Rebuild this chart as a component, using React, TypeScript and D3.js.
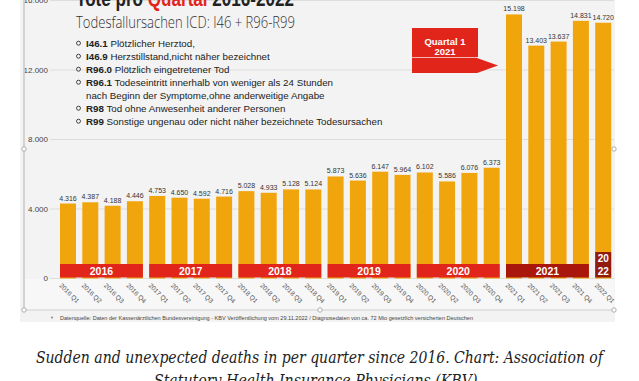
import React from "react";
import * as d3 from "d3";

const quarters = [
  "2016 Q1", "2016 Q2", "2016 Q3", "2016 Q4",
  "2017 Q1", "2017 Q2", "2017 Q3", "2017 Q4",
  "2018 Q1", "2018 Q2", "2018 Q3", "2018 Q4",
  "2019 Q1", "2019 Q2", "2019 Q3", "2019 Q4",
  "2020 Q1", "2020 Q2", "2020 Q3", "2020 Q4",
  "2021 Q1", "2021 Q2", "2021 Q3", "2021 Q4",
  "2022 Q1",
];
const deaths = [
  4316, 4387, 4188, 4446,
  4753, 4650, 4592, 4716,
  5028, 4933, 5128, 5124,
  5873, 5636, 6147, 5964,
  6102, 5586, 6076, 6373,
  15198, 13403, 13637, 14831,
  14720,
];
const years = ["2016", "2017", "2018", "2019", "2020", "2021", "2022"];
const yTicks = [0, 4000, 8000, 12000, 16000];

const bulletItems: [string, string][] = [
  ["I46.1", " Plötzlicher Herztod,"],
  ["I46.9", " Herzstillstand,nicht näher bezeichnet"],
  ["R96.0", " Plötzlich eingetretener Tod"],
  ["R96.1", " Todeseintritt innerhalb von weniger als 24 Stunden"],
  ["", "nach Beginn der Symptome,ohne anderweitige Angabe"],
  ["R98", " Tod ohne Anwesenheit anderer Personen"],
  ["R99", " Sonstige ungenau oder nicht näher bezeichnete Todesursachen"],
];

const titleParts = ["Tote pro ", "Quartal", " 2016-2022"];
const subtitle = "Todesfallursachen ICD: I46 + R96-R99";
const calloutLines = ["Quartal 1", "2021"];
const sourceText =
  "Datenquelle: Daten der Kassenärztlichen Bundesvereinigung - KBV Veröffentlichung vom 29.11.2022 / Diagnosedaten von ca. 72 Mio gesetzlich versicherten Deutschen";
const captionLines = [
  "Sudden and unexpected deaths in per quarter since 2016. Chart: Association of",
  "Statutory Health Insurance Physicians (KBV).",
];

const W = 639;
const H = 381;
const SANS = "'Liberation Sans', Arial, sans-serif";
const ORANGE = "#f1a50d";
const RED = "#e1251b";
const DARKRED = "#a9170c";
const DARKERRED = "#921b10";

const de = d3.formatLocale({
  decimal: ",",
  thousands: ".",
  grouping: [3],
  currency: ["", "€"],
});
const fmt = de.format(",d");

export default function App() {
  const x = d3
    .scaleBand<string>()
    .domain(quarters)
    .range([56.85, 614.35])
    .paddingInner(0.283)
    .paddingOuter(0.1415);
  const y = d3.scaleLinear().domain([0, 16000]).range([278.5, 0.5]);
  const bw = x.bandwidth();

  const yearGroups = years.map((yr) => {
    const qs = quarters.filter((q) => q.startsWith(yr));
    const x0 = x(qs[0])!;
    const x1 = x(qs[qs.length - 1])! + bw;
    return { yr, x0, x1, n: qs.length };
  });

  const handles = [
    [24, 149],
    [24, 310],
    [320, 310],
    [614, 310],
    [614, 149],
  ];

  return (
    <div style={{ position: "absolute", left: 0, top: 0 }}>
      <svg width={W} height={H} style={{ display: "block" }}>
        <rect x={0} y={0} width={W} height={H} fill="#ffffff" />
        <rect x={20} y={0} width={595} height={322} fill="#f3f3f3" />
        <rect x={25} y={279} width={589} height={31} fill="#f7f7f7" />

        {/* gridlines */}
        {yTicks.map((t) => (
          <line
            key={"g" + t}
            x1={50}
            x2={614}
            y1={y(t)}
            y2={y(t)}
            stroke="#dddddd"
            strokeWidth={1}
          />
        ))}
        {yTicks.map((t) => (
          <text
            key={"yt" + t}
            x={48}
            y={y(t)}
            dy="0.35em"
            textAnchor="end"
            fontFamily={SANS}
            fontSize={8}
            fill="#444"
          >
            {fmt(t)}
          </text>
        ))}

        {/* frame lines */}
        <line x1={24} x2={24} y1={0} y2={310} stroke="#c9c9c9" strokeWidth={1.5} />
        <line x1={24} x2={614} y1={310} y2={310} stroke="#cfcfcf" strokeWidth={1} />

        {/* bars */}
        {quarters.map((q, i) => (
          <rect
            key={q}
            x={x(q)}
            y={y(deaths[i])}
            width={bw}
            height={y(0) - y(deaths[i])}
            fill={ORANGE}
          />
        ))}
        {quarters.map((q, i) => (
          <text
            key={"v" + q}
            x={x(q)! + bw / 2}
            y={y(deaths[i]) - 3}
            textAnchor="middle"
            fontFamily={SANS}
            fontSize={7}
            fill="#333"
          >
            {fmt(deaths[i])}
          </text>
        ))}

        {/* year bands */}
        {yearGroups.map((g) => {
          if (g.yr === "2022") {
            return (
              <g key={g.yr}>
                <rect x={g.x0} y={252} width={g.x1 - g.x0} height={25.5} fill={DARKERRED} />
                <text x={(g.x0 + g.x1) / 2} y={261.5} textAnchor="middle" fontFamily={SANS} fontWeight="bold" fontSize={10} fill="#fff">
                  {g.yr.slice(0, 2)}
                </text>
                <text x={(g.x0 + g.x1) / 2} y={274.5} textAnchor="middle" fontFamily={SANS} fontWeight="bold" fontSize={10} fill="#fff">
                  {g.yr.slice(2)}
                </text>
              </g>
            );
          }
          return (
            <g key={g.yr}>
              <rect
                x={g.x0}
                y={264}
                width={g.x1 - g.x0}
                height={13.5}
                fill={g.yr === "2021" ? DARKRED : RED}
              />
              <text
                x={(g.x0 + g.x1) / 2}
                y={274.5}
                textAnchor="middle"
                fontFamily={SANS}
                fontWeight="bold"
                fontSize={10.5}
                fill="#fff"
              >
                {g.yr}
              </text>
            </g>
          );
        })}

        {/* x labels */}
        {quarters.map((q) => (
          <text
            key={"xl" + q}
            transform={`translate(${x(q)! - 1},${286}) rotate(45)`}
            fontFamily={SANS}
            fontSize={6.5}
            fill="#555"
          >
            {q}
          </text>
        ))}

        {/* handles */}
        {handles.map(([hx, hy], i) => (
          <circle key={"h" + i} cx={hx} cy={hy} r={2.2} fill="#fff" stroke="#999" strokeWidth={0.8} />
        ))}

        {/* source */}
        <circle cx={52} cy={317.5} r={0.9} fill="#777" />
        <text x={60} y={319.5} fontFamily={SANS} fontSize={5} fill="#444" textLength={413} lengthAdjust="spacingAndGlyphs">
          {sourceText}
        </text>

        {/* title */}
        <text x={76} y={6} fontFamily={SANS} fontWeight="bold" fontSize={22} fill="#222" textLength={218} lengthAdjust="spacingAndGlyphs">
          <tspan>{titleParts[0]}</tspan>
          <tspan fill={RED}>{titleParts[1]}</tspan>
          <tspan>{titleParts[2]}</tspan>
        </text>
        <text x={76} y={28} fontFamily="'Open Sans', sans-serif" fontWeight={300} fontSize={16} fill="#333" textLength={219} lengthAdjust="spacingAndGlyphs">
          {subtitle}
        </text>

        {/* bullet list */}
        {bulletItems.map(([code, rest], i) => {
          const by = [46.5, 59.5, 72.5, 85.5, 98.5, 111.5, 124.5][i];
          return (
            <g key={"b" + i}>
              {code && <circle cx={78.5} cy={by - 3.3} r={2} fill="none" stroke="#333" strokeWidth={0.9} />}
              <text x={86} y={by} fontFamily={SANS} fontSize={9.75} fill="#222">
                {code && <tspan fontWeight="bold">{code}</tspan>}
                <tspan>{rest}</tspan>
              </text>
            </g>
          );
        })}

        {/* callout */}
        <rect x={412} y={28} width={66} height={29} fill={RED} />
        <polygon points="412,58 477,58 498,65.5 477,73 412,73" fill={RED} />
        <line x1={412} x2={477} y1={57.5} y2={57.5} stroke="#f08a80" strokeWidth={0.6} />
        <text x={445} y={44.5} textAnchor="middle" fontFamily={SANS} fontWeight="bold" fontSize={9.5} fill="#fff">
          {calloutLines[0]}
        </text>
        <text x={445} y={54.5} textAnchor="middle" fontFamily={SANS} fontWeight="bold" fontSize={9.5} fill="#fff">
          {calloutLines[1]}
        </text>

        {/* caption */}
        <text x={36} y={362.5} fontFamily="'DejaVu Serif', serif" fontStyle="italic" fontSize={16.5} fill="#222" textLength={567} lengthAdjust="spacingAndGlyphs">
          {captionLines[0]}
        </text>
        <text x={154} y={385.5} fontFamily="'DejaVu Serif', serif" fontStyle="italic" fontSize={16.5} fill="#222" textLength={328} lengthAdjust="spacingAndGlyphs">
          {captionLines[1]}
        </text>
      </svg>
    </div>
  );
}
